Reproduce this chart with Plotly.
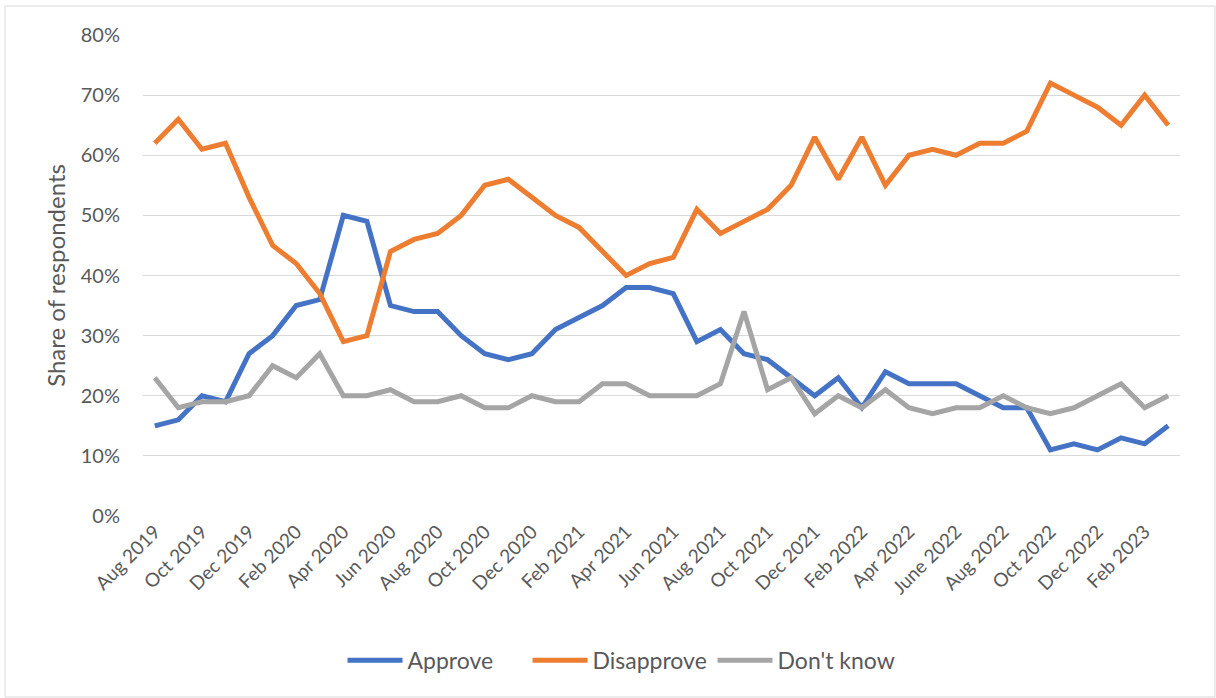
import plotly.graph_objects as go

# Monthly survey periods
months = [
    "Aug 2019", "Sep 2019", "Oct 2019", "Nov 2019", "Dec 2019",
    "Jan 2020", "Feb 2020", "Mar 2020", "Apr 2020", "May 2020", "Jun 2020",
    "Jul 2020", "Aug 2020", "Sep 2020", "Oct 2020", "Nov 2020", "Dec 2020",
    "Jan 2021", "Feb 2021", "Mar 2021", "Apr 2021", "May 2021", "Jun 2021",
    "Jul 2021", "Aug 2021", "Sep 2021", "Oct 2021", "Nov 2021", "Dec 2021",
    "Jan 2022", "Feb 2022", "Mar 2022", "Apr 2022", "May 2022", "June 2022",
    "Jul 2022", "Aug 2022", "Sep 2022", "Oct 2022", "Nov 2022", "Dec 2022",
    "Jan 2023", "Feb 2023", "Mar 2023",
]

# Share of respondents, in percent
approve = [
    15, 16, 20, 19, 27, 30, 35, 36, 50, 49, 35, 34, 34, 30, 27, 26, 27,
    31, 33, 35, 38, 38, 37, 29, 31, 27, 26, 23, 20, 23, 18, 24, 22, 22,
    22, 20, 18, 18, 11, 12, 11, 13, 12, 15,
]
disapprove = [
    62, 66, 61, 62, 53, 45, 42, 37, 29, 30, 44, 46, 47, 50, 55, 56, 53,
    50, 48, 44, 40, 42, 43, 51, 47, 49, 51, 55, 63, 56, 63, 55, 60, 61,
    60, 62, 62, 64, 72, 70, 68, 65, 70, 65,
]
dont_know = [
    23, 18, 19, 19, 20, 25, 23, 27, 20, 20, 21, 19, 19, 20, 18, 18, 20,
    19, 19, 22, 22, 20, 20, 20, 22, 34, 21, 23, 17, 20, 18, 21, 18, 17,
    18, 18, 20, 18, 17, 18, 20, 22, 18, 20,
]

series = [
    ("Approve", approve, "#4472C4"),
    ("Disapprove", disapprove, "#ED7D31"),
    ("Don't know", dont_know, "#A5A5A5"),
]

FONT = "Lato"
TEXT = "#595959"
GRID = "#D9D9D9"

fig = go.Figure()
for name, vals, color in series:
    fig.add_trace(go.Scatter(
        x=months,
        y=[v / 100 for v in vals],
        mode="lines",
        name=name,
        line=dict(color=color, width=5),
    ))

fig.update_layout(
    width=1216,
    height=698,
    margin=dict(l=143, r=36, t=35, b=182),
    paper_bgcolor="white",
    plot_bgcolor="white",
    font=dict(family=FONT, color=TEXT, size=20),
    showlegend=True,
    legend=dict(
        orientation="h",
        x=0.46, xanchor="center",
        y=-0.30, yanchor="middle",
        font=dict(family=FONT, size=23, color=TEXT),
        itemwidth=55,
        entrywidth=115,
        entrywidthmode="pixels",
        traceorder="normal",
    ),
    xaxis=dict(
        type="category",
        categoryorder="array",
        categoryarray=months,
        range=[-0.5, len(months) - 0.5],
        tickvals=months[::2],
        ticktext=months[::2],
        tickangle=-45,
        showgrid=False,
        showline=False,
        zeroline=False,
        ticks="",
        tickfont=dict(family=FONT, size=19, color=TEXT),
    ),
    yaxis=dict(
        range=[0, 0.8],
        dtick=0.1,
        tick0=0,
        tickformat=".0%",
        showgrid=True,
        gridcolor=GRID,
        gridwidth=1,
        zeroline=False,
        showline=False,
        ticks="outside",
        ticklen=18,
        tickcolor="rgba(0,0,0,0)",
        tickfont=dict(family=FONT, size=20, color=TEXT),
        title=dict(
            text="Share of respondents",
            font=dict(family=FONT, size=24, color=TEXT),
            standoff=8,
        ),
    ),
    shapes=[
        dict(
            type="rect",
            xref="paper", yref="paper",
            x0=(5 - 143) / 1037, x1=(1215 - 143) / 1037,
            y0=(516 - 697) / 481, y1=(516 - 6) / 481,
            line=dict(color=GRID, width=1),
            fillcolor="rgba(0,0,0,0)",
            layer="below",
        )
    ],
)

fig.write_html("out.html")
